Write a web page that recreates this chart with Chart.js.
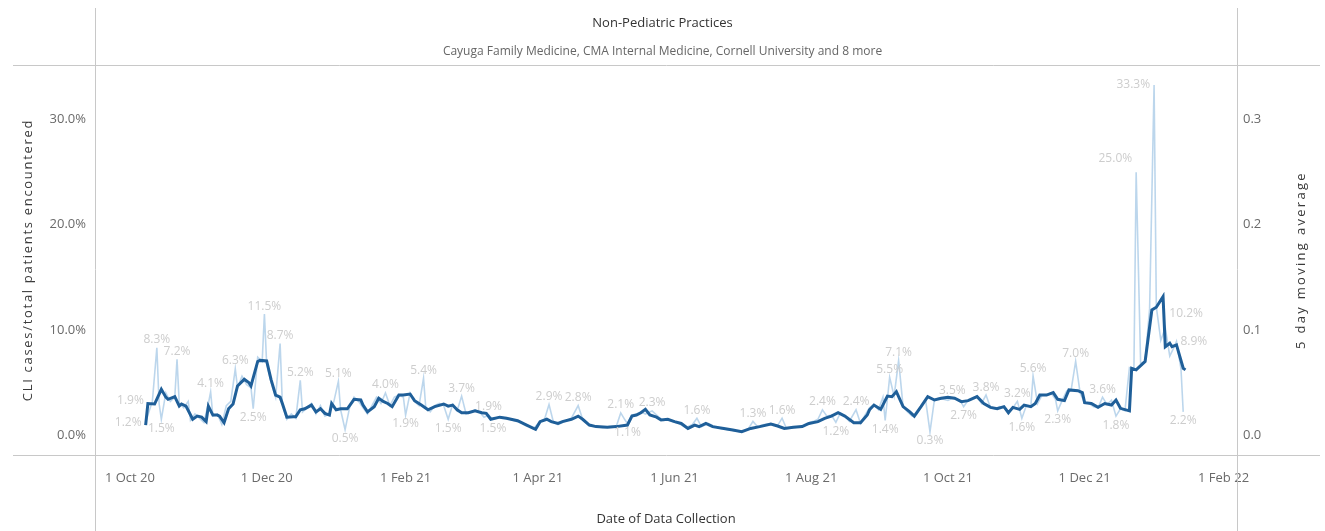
<!DOCTYPE html>
<html>
<head>
<meta charset="utf-8">
<title>Non-Pediatric Practices</title>
<script src="https://cdn.jsdelivr.net/npm/chart.js@4.4.1/dist/chart.umd.min.js"></script>
<style>
  html, body { margin: 0; padding: 0; background: #fff; }
  #wrap { width: 1325px; height: 531px; }
</style>
</head>
<body>
<div id="wrap"><canvas id="cliChart" width="1325" height="531"></canvas></div>
<script>
// x positions are days since 1 Oct 2020
const xTickDays = [0, 61, 123, 182, 243, 304, 365, 426, 488];
const xTickLabels = ['1 Oct 20', '1 Dec 20', '1 Feb 21', '1 Apr 21', '1 Jun 21', '1 Aug 21', '1 Oct 21', '1 Dec 21', '1 Feb 22'];
const yTicks = [0, 10, 20, 30];
const y1Ticks = [0, 0.1, 0.2, 0.3];

// daily CLI share (%), pale line
const dailyDays = [
  7, 8, 10, 12, 13, 14, 16, 18, 20, 21,
  22, 24, 26, 27, 29, 31, 33, 35, 36, 37,
  39, 41, 43, 45, 47, 48, 50, 52, 54, 55,
  57, 59, 60, 61, 63, 65, 67, 68, 70, 72,
  74, 76, 77, 79, 81, 83, 85, 87, 89, 91,
  93, 94, 96, 98, 100, 102, 104, 106, 108, 110,
  112, 114, 116, 118, 120, 122, 123, 125, 127, 129,
  131, 132, 134, 136, 138, 140, 142, 144, 146, 148,
  150, 152, 154, 156, 158, 160, 162, 165, 168, 171,
  174, 177, 180, 183, 185, 187, 189, 191, 194, 197,
  200, 202, 205, 208, 211, 214, 217, 219, 221, 222,
  224, 226, 228, 230, 233, 236, 238, 240, 242, 245,
  248, 251, 253, 255, 258, 261, 264, 267, 270, 273,
  276, 278, 280, 283, 286, 289, 291, 293, 296, 299,
  302, 305, 307, 309, 311, 313, 315, 317, 319, 321,
  324, 326, 328, 330, 332, 334, 336, 337, 339, 341,
  343, 345, 347, 349, 351, 353, 355, 357, 359, 361,
  363, 365, 367, 369, 371, 372, 374, 376, 378, 380,
  382, 384, 386, 388, 390, 392, 394, 396, 398, 400,
  402, 403, 405, 407, 409, 411, 413, 414, 416, 418,
  420, 422, 424, 426, 428, 430, 432, 434, 436, 438,
  440, 442, 444, 446, 448, 449, 451, 453, 455, 457,
  458, 460, 462, 464, 466, 467, 469, 470
];
const dailyValues = [
  1.2, 1.9, 3.2, 8.3, 3.0, 1.5, 4.0, 3.2, 3.6, 7.2,
  3.0, 2.6, 3.2, 1.4, 2.0, 1.6, 1.2, 3.0, 4.1, 1.8,
  2.0, 1.0, 2.8, 3.2, 6.3, 4.5, 5.6, 4.8, 4.5, 2.5,
  7.4, 7.0, 11.5, 6.8, 5.0, 3.6, 8.7, 3.0, 1.5, 2.0,
  1.6, 5.2, 2.2, 2.6, 3.0, 2.0, 2.8, 1.8, 2.0, 3.2,
  5.1, 2.4, 0.5, 2.6, 3.6, 3.2, 2.6, 2.0, 2.8, 3.6,
  3.0, 4.0, 2.8, 3.6, 3.8, 3.6, 1.9, 4.0, 3.2, 2.8,
  5.4, 2.6, 2.2, 2.8, 3.0, 2.8, 1.5, 2.9, 2.3, 3.7,
  2.0, 2.2, 2.4, 2.2, 1.7, 1.9, 1.5, 1.7, 1.6, 1.4,
  1.2, 1.0, 0.6, 1.3, 1.5, 2.9, 1.2, 1.0, 1.3, 1.6,
  2.8, 1.5, 0.9, 0.8, 0.7, 0.8, 0.8, 2.1, 1.4, 1.1,
  1.9, 2.0, 2.2, 2.0, 2.3, 1.7, 1.4, 1.5, 1.3, 1.1,
  0.7, 1.0, 1.6, 0.8, 1.1, 0.8, 0.6, 0.5, 0.4, 0.3,
  0.6, 1.3, 0.8, 1.0, 1.1, 0.9, 1.6, 0.6, 0.7, 0.8,
  1.1, 1.3, 1.5, 2.4, 1.8, 1.9, 1.2, 2.1, 1.8, 1.3,
  2.4, 1.1, 1.9, 2.6, 2.9, 2.4, 3.6, 1.4, 5.5, 3.7,
  7.1, 2.7, 2.2, 1.8, 2.0, 2.7, 3.4, 0.3, 3.4, 3.5,
  3.4, 3.3, 3.5, 3.4, 3.1, 2.7, 3.3, 3.5, 3.7, 3.0,
  3.8, 2.6, 2.5, 2.7, 2.6, 2.1, 2.6, 3.2, 1.6, 2.8,
  2.7, 5.6, 3.0, 3.8, 3.8, 4.0, 3.4, 2.3, 3.3, 4.2,
  4.3, 7.0, 4.0, 3.1, 3.0, 2.7, 2.6, 3.6, 2.9, 3.3,
  1.8, 2.5, 2.3, 6.4, 6.2, 25.0, 6.8, 7.0, 12.0, 33.3,
  12.2, 9.0, 10.2, 7.5, 8.4, 8.9, 6.3, 2.2
];
// days whose daily value carries a text label
const labelledDays = [7, 8, 12, 14, 21, 36, 47, 55, 60, 67, 76, 93, 96, 114, 123, 131, 142, 148, 160, 162,
  187, 200, 219, 222, 233, 253, 278, 291, 309, 315, 324, 337, 339, 343, 357, 367, 372, 382, 396, 398,
  403, 414, 422, 434, 440, 449, 457, 462, 467, 470];

// 5 day moving average (read in %, plotted as a fraction on the right axis)
const maDays = [
  7, 8, 11, 14, 16, 17, 20, 22, 23, 25,
  28, 30, 32, 34, 35, 37, 39, 40, 42, 44,
  46, 48, 51, 53, 54, 57, 58, 61, 63, 65,
  67, 68, 70, 73, 74, 76, 78, 81, 83, 85,
  87, 89, 90, 92, 94, 97, 100, 103, 104, 106,
  109, 111, 113, 115, 117, 120, 122, 125, 127, 130,
  133, 136, 140, 142, 144, 146, 148, 151, 154, 157,
  159, 161, 165, 168, 173, 177, 181, 183, 186, 188,
  191, 193, 197, 200, 202, 205, 208, 213, 217, 222,
  224, 226, 228, 230, 232, 235, 237, 240, 243, 246,
  249, 252, 254, 257, 260, 265, 269, 273, 277, 281,
  286, 289, 292, 296, 300, 303, 307, 310, 313, 316,
  319, 323, 326, 329, 330, 332, 335, 338, 340, 342,
  345, 348, 350, 353, 356, 359, 362, 365, 368, 371,
  374, 378, 381, 384, 387, 390, 392, 394, 397, 399,
  402, 404, 406, 409, 412, 414, 417, 419, 423, 425,
  426, 429, 432, 435, 438, 440, 442, 446, 447, 449,
  453, 456, 458, 461, 462, 464, 465, 467, 470, 471
];
const maValues = [
  0.95, 3.0, 2.95, 4.35, 3.6, 3.4, 3.65, 2.75, 2.95, 2.75,
  1.5, 1.8, 1.7, 1.27, 2.75, 1.9, 1.9, 1.8, 1.17, 2.5,
  2.95, 4.67, 5.3, 5.0, 4.67, 7.0, 7.1, 7.05, 5.24, 3.8,
  3.6, 3.0, 1.7, 1.75, 1.75, 2.4, 2.5, 2.85, 2.2, 2.5,
  2.06, 1.9, 3.0, 2.4, 2.5, 2.5, 3.4, 3.33, 2.85, 2.2,
  2.7, 3.5, 3.2, 3.0, 2.7, 3.8, 3.8, 3.9, 3.27, 2.85,
  2.4, 2.7, 2.95, 2.75, 2.85, 2.4, 2.12, 2.12, 2.3, 2.12,
  2.06, 1.5, 1.7, 1.6, 1.36, 0.95, 0.54, 1.27, 1.5, 1.27,
  1.1, 1.27, 1.5, 1.8, 1.5, 0.95, 0.8, 0.73, 0.8, 0.95,
  1.8, 1.9, 2.12, 2.44, 1.9, 1.7, 1.43, 1.5, 1.27, 1.1,
  0.63, 0.95, 0.8, 1.1, 0.8, 0.63, 0.48, 0.32, 0.63, 0.8,
  1.05, 0.86, 0.63, 0.73, 0.8, 1.1, 1.27, 1.59, 1.8, 2.12,
  1.8, 1.17, 1.17, 1.9, 2.4, 2.85, 2.44, 3.7, 3.65, 4.13,
  2.7, 2.2, 1.8, 2.7, 3.65, 3.33, 3.5, 3.6, 3.5, 3.17,
  3.27, 3.65, 3.0, 2.63, 2.5, 2.7, 2.12, 2.63, 2.44, 2.85,
  2.7, 3.0, 3.8, 3.8, 4.03, 3.4, 3.27, 4.29, 4.22, 4.03,
  3.08, 3.0, 2.63, 3.0, 2.85, 3.33, 2.54, 2.3, 6.35, 6.2,
  7.0, 11.9, 12.16, 13.17, 8.4, 8.73, 8.4, 8.57, 6.35, 6.2
];

const FONT = '"Open Sans", "DejaVu Sans", sans-serif';
Chart.defaults.font.family = FONT;

// pane lines + rotated axis titles (drawn like the original workbook)
const framePlugin = {
  id: 'frame',
  beforeDatasetsDraw(chart) {
    const { ctx, chartArea: a, width, height } = chart;
    ctx.save();
    ctx.strokeStyle = '#c8c8c8';
    ctx.lineWidth = 1;
    ctx.beginPath();
    ctx.moveTo(13, Math.round(a.top) + 0.5); ctx.lineTo(width - 5, Math.round(a.top) + 0.5);
    ctx.moveTo(13, Math.round(a.bottom) + 0.5); ctx.lineTo(width - 5, Math.round(a.bottom) + 0.5);
    ctx.moveTo(Math.round(a.left) + 0.5, 8); ctx.lineTo(Math.round(a.left) + 0.5, height);
    ctx.moveTo(Math.round(a.right) + 0.5, 8); ctx.lineTo(Math.round(a.right) + 0.5, height);
    ctx.stroke();

    const midY = (a.top + a.bottom) / 2;
    ctx.fillStyle = '#3a3a3a';
    ctx.font = '13px ' + FONT;
    ctx.textAlign = 'center';
    ctx.textBaseline = 'middle';
    [[28, 'CLI cases/total patients encountered', '1.7px'], [1301, '5 day moving average', '2.3px']].forEach(([x, txt, sp]) => {
      ctx.save();
      ctx.letterSpacing = sp;
      ctx.translate(x, midY);
      ctx.rotate(-Math.PI / 2);
      ctx.fillText(txt, 0, 0);
      ctx.restore();
    });
    ctx.restore();
  }
};

// where a few crowded labels sit beside their point instead of above/below
const labelSide = { 7: 'left', 8: 'left', 449: 'left', 457: 'left', 462: 'right', 467: 'right' };

const valueLabels = {
  id: 'valueLabels',
  afterDatasetsDraw(chart) {
    const meta = chart.getDatasetMeta(1);
    const ctx = chart.ctx;
    ctx.save();
    ctx.font = '12px ' + FONT;
    ctx.fillStyle = '#cdcdcd';
    meta.data.forEach((pt, i) => {
      const day = dailyDays[i];
      if (!labelledDays.includes(day)) return;
      const v = dailyValues[i];
      const txt = v.toFixed(1) + '%';
      const side = labelSide[day];
      if (side) {
        ctx.textAlign = side === 'left' ? 'right' : 'left';
        ctx.textBaseline = 'middle';
        const dy = (day === 8 || day === 449 || day === 462) ? -14 : 0;
        ctx.fillText(txt, side === 'left' ? pt.x - 4 : pt.x + 4, pt.y + dy);
        return;
      }
      const prev = i > 0 ? dailyValues[i - 1] : v;
      const next = i < dailyValues.length - 1 ? dailyValues[i + 1] : v;
      const up = v >= (prev + next) / 2;
      ctx.textAlign = 'center';
      ctx.textBaseline = up ? 'bottom' : 'top';
      ctx.fillText(txt, pt.x, up ? pt.y - 2 : pt.y + 3);
    });
    ctx.restore();
  }
};

const ctx = document.getElementById('cliChart').getContext('2d');
const cliChart = new Chart(ctx, {
  type: 'line',
  data: {
    datasets: [
      {
        label: '5 day moving average',
        data: maDays.map((d, i) => ({ x: d, y: maValues[i] / 100 })),
        yAxisID: 'y1',
        borderColor: '#1f5f99',
        borderWidth: 3,
        pointRadius: 0,
        tension: 0,
        order: 1
      },
      {
        label: 'CLI cases/total patients encountered',
        data: dailyDays.map((d, i) => ({ x: d, y: dailyValues[i] })),
        yAxisID: 'y',
        borderColor: 'rgba(165, 200, 230, 0.75)',
        borderWidth: 1.6,
        pointRadius: 0,
        tension: 0,
        order: 2
      }
    ]
  },
  options: {
    responsive: false,
    animation: false,
    layout: { padding: 0 },
    plugins: {
      legend: { display: false },
      tooltip: { enabled: false },
      title: {
        display: true,
        text: 'Non-Pediatric Practices',
        color: '#333',
        font: { size: 13, weight: 'normal' },
        padding: { top: 15, bottom: 6 }
      },
      subtitle: {
        display: true,
        text: 'Cayuga Family Medicine, CMA Internal Medicine, Cornell University and 8 more',
        color: '#666',
        font: { size: 12 },
        padding: { top: 7.7, bottom: 6.3 }
      }
    },
    scales: {
      x: {
        type: 'linear',
        min: -15.6,
        max: 494,
        afterBuildTicks: s => { s.ticks = xTickDays.map(v => ({ value: v })); },
        afterFit: s => { s.height = 76; },
        grid: { display: false, drawTicks: false },
        border: { display: false },
        ticks: {
          maxRotation: 0,
          padding: 15,
          color: '#6a6a6a',
          font: { size: 13 },
          callback: v => xTickLabels[xTickDays.indexOf(v)]
        },
        title: {
          display: true,
          text: 'Date of Data Collection',
          color: '#333',
          font: { size: 13 },
          padding: { top: 0, bottom: 4 }
        }
      },
      y: {
        position: 'left',
        min: -1.9,
        max: 35.2,
        afterBuildTicks: s => { s.ticks = yTicks.map(v => ({ value: v })); },
        afterFit: s => { s.width = 95; },
        grid: { display: false, drawTicks: false },
        border: { display: false },
        ticks: {
          padding: 9,
          color: '#6a6a6a',
          font: { size: 13 },
          callback: v => v.toFixed(1) + '%'
        }
      },
      y1: {
        position: 'right',
        min: -0.019,
        max: 0.352,
        afterBuildTicks: s => { s.ticks = y1Ticks.map(v => ({ value: v })); },
        afterFit: s => { s.width = 88; },
        grid: { display: false, drawTicks: false },
        border: { display: false },
        ticks: {
          padding: 6,
          color: '#6a6a6a',
          font: { size: 13 },
          callback: v => v.toFixed(1)
        }
      }
    }
  },
  plugins: [framePlugin, valueLabels]
});
</script>
</body>
</html>
